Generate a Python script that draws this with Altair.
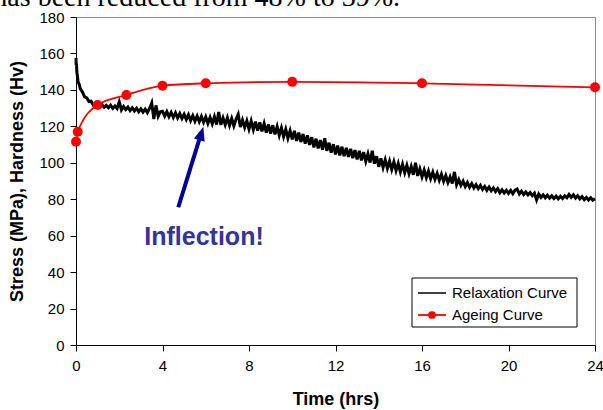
import altair as alt
import pandas as pd

# ---------------- data ----------------
# Relaxation curve (stress, MPa) – dense early part
relax_time_early = [0, 0.01, 0.02, 0.04, 0.06, 0.1, 0.15, 0.2, 0.3, 0.4, 0.5, 0.6, 0.7, 0.8, 0.9]
relax_stress_early = [157.5, 153.5, 154.5, 149.8, 148.0, 144.2, 143.0, 140.6, 138.8, 136.2,
                      135.6, 133.6, 133.8, 131.6, 132.6]

# Relaxation curve, sampled every 0.1 h from 1.0 h to 24.0 h (one row per hour)
relax_stress_main = [
    131.8, 130.6, 131.9, 130.4, 131.5, 130.2, 131.6, 129.9, 131.2, 129.8,   # 1 h
    133.5, 129.0, 130.9, 129.2, 130.6, 128.6, 130.2, 128.4, 129.9, 128.0,   # 2 h
    129.6, 127.8, 129.4, 127.5, 129.8, 132.8, 124.0, 131.5, 125.5, 128.0,   # 3 h
    128.3, 125.6, 128.1, 125.3, 127.6, 124.9, 127.4, 124.6, 127.0, 124.3,   # 4 h
    126.6, 123.8, 126.4, 123.2, 125.9, 122.8, 125.6, 122.5, 125.4, 122.2,   # 5 h
    125.2, 121.6, 124.9, 121.4, 125.3, 121.0, 127.8, 120.8, 124.6, 120.9,   # 6 h
    124.7, 120.5, 124.3, 120.2, 123.9, 126.6, 119.6, 123.4, 119.4, 123.0,   # 7 h
    118.5, 122.9, 118.2, 122.6, 117.6, 122.2, 117.2, 121.5, 116.6, 121.0,   # 8 h
    116.0, 120.6, 115.6, 119.9, 115.0, 119.2, 114.3, 118.4, 113.5, 117.6,   # 9 h
    112.8, 117.5, 112.0, 116.6, 111.4, 115.8, 110.5, 115.0, 109.8, 114.0,   # 10 h
    108.4, 113.2, 107.9, 112.5, 107.2, 113.4, 106.6, 111.0, 105.6, 110.2,   # 11 h
    104.6, 109.4, 104.1, 108.8, 103.7, 108.2, 103.2, 107.6, 102.5, 107.0,   # 12 h
    101.9, 106.5, 101.3, 105.8, 100.8, 104.9, 100.1, 106.6, 99.5, 103.6,    # 13 h
    97.8, 102.4, 97.4, 101.6, 96.9, 100.9, 96.3, 100.5, 95.7, 99.7,         # 14 h
    95.0, 99.2, 94.6, 98.6, 94.0, 97.9, 93.4, 100.0, 92.8, 96.6,            # 15 h
    92.2, 96.0, 91.8, 95.4, 91.3, 94.8, 90.9, 94.2, 90.4, 93.7,             # 16 h
    89.8, 93.0, 89.2, 92.2, 88.6, 95.0, 88.0, 90.8, 87.6, 89.9,             # 17 h
    87.0, 89.2, 86.6, 88.6, 86.2, 88.0, 85.8, 87.6, 85.4, 87.0,             # 18 h
    84.9, 86.7, 84.6, 86.2, 84.2, 85.8, 83.6, 85.2, 83.4, 84.9,             # 19 h
    83.2, 84.8, 83.0, 85.0, 85.6, 82.8, 84.4, 82.6, 84.0, 82.4,             # 20 h
    83.6, 82.0, 83.3, 79.6, 82.8, 81.0, 82.4, 80.8, 82.2, 80.6,             # 21 h
    81.9, 80.4, 81.7, 80.2, 81.6, 80.4, 81.8, 80.8, 82.6, 81.0,             # 22 h
    82.4, 80.6, 81.9, 80.2, 81.4, 79.8, 81.0, 79.6, 80.8, 79.4,             # 23 h
    80.2,                                                                   # 24 h
]
relax_time_main = [round(1 + 0.1 * i, 1) for i in range(len(relax_stress_main))]

# Ageing curve (hardness, Hv)
ageing_time = [0, 0.08, 1, 2.33, 4, 6, 10, 16, 24]
ageing_hardness = [111.5, 117.0, 131.7, 137.2, 142.3, 143.6, 144.4, 143.6, 141.4]

# Annotation
arrow_x = [4.73, 5.72]
arrow_y = [75.6, 113.5]
arrow_tip = [5.89, 119.8]
note_pos = [5.92, 54.9]
note_text = "Inflection!"

legend_labels = ["Relaxation Curve", "Ageing Curve"]
x_ticks = [0, 4, 8, 12, 16, 20, 24]
y_ticks = [0, 20, 40, 60, 80, 100, 120, 140, 160, 180]
x_title = "Time (hrs)"
y_title = "Stress (MPa), Hardness (Hv)"
page_text = "has been reduced from 48% to 39%."

# ---------------- tables ----------------
relax_df = pd.DataFrame({
    "t": relax_time_early + relax_time_main,
    "v": relax_stress_early + relax_stress_main,
})
age_df = pd.DataFrame({"t": ageing_time, "v": ageing_hardness})
arrow_df = pd.DataFrame({"t": [arrow_x[0]], "v": [arrow_y[0]],
                         "t2": [arrow_x[1]], "v2": [arrow_y[1]]})
tip_df = pd.DataFrame({"t": [arrow_tip[0]], "v": [arrow_tip[1]]})
note_df = pd.DataFrame({"t": [note_pos[0]], "v": [note_pos[1]], "label": [note_text]})
one = pd.DataFrame({"a": [0]})

FONT = "Liberation Sans"

xscale = alt.Scale(domain=[0, 24], nice=False, zero=False)
yscale = alt.Scale(domain=[0, 180], nice=False)

xaxis = alt.Axis(values=x_ticks, tickCount=7, title=x_title, grid=False, labelFontSize=15,
                 titleFontSize=18, titleFontWeight="bold", tickSize=6,
                 labelPadding=7, titlePadding=17, domainColor="black",
                 tickColor="black", labelColor="black", titleColor="black",
                 labelFont=FONT, titleFont=FONT, labelFlush=False,
                 labelOverlap=False)
yaxis = alt.Axis(values=y_ticks, tickCount=10, title=y_title, grid=False, labelFontSize=15,
                 titleFontSize=18, titleFontWeight="bold", tickSize=6,
                 labelPadding=6, titlePadding=12, domainColor="black",
                 tickColor="black", labelColor="black", titleColor="black",
                 labelFont=FONT, titleFont=FONT, labelOverlap=False, labelFlush=False)


def X(field="t"):
    return alt.X(f"{field}:Q", scale=xscale, axis=xaxis)


def Y(field="v"):
    return alt.Y(f"{field}:Q", scale=yscale, axis=yaxis)


relax = alt.Chart(relax_df).mark_line(color="black", strokeWidth=3,
                                      strokeJoin="miter").encode(x=X(), y=Y())

age_line = alt.Chart(age_df).mark_line(color="#FF0000", strokeWidth=1.8,
                                       interpolate="monotone").encode(x=X(), y=Y())
age_pts = alt.Chart(age_df).mark_point(filled=True, color="#FF0000", size=100,
                                       opacity=1).encode(x=X(), y=Y())

arrow = alt.Chart(arrow_df).mark_rule(color="#000099", strokeWidth=4).encode(
    x=X(), y=Y(), x2="t2:Q", y2="v2:Q")
head = alt.Chart(tip_df).mark_point(filled=True, color="#000099", opacity=1,
                                    shape="M0,0L0.8,2L-0.8,2Z", size=196,
                                    angle=17).encode(x=X(), y=Y())
note = alt.Chart(note_df).mark_text(color="#333399", fontSize=25, fontWeight="bold",
                                    font=FONT, align="center",
                                    baseline="alphabetic").encode(
    x=X(), y=Y(), text="label:N")

# legend (drawn by hand, fixed pixel positions inside the plot)
leg_box = alt.Chart(one).mark_rect(fill="white", stroke="black", strokeWidth=1).encode(
    x=alt.value(336), x2=alt.value(501), y=alt.value(261), y2=alt.value(310))
leg_l1 = alt.Chart(one).mark_rule(color="black", strokeWidth=1.5).encode(
    x=alt.value(342), x2=alt.value(370), y=alt.value(276))
leg_l2 = alt.Chart(one).mark_rule(color="#FF0000", strokeWidth=1.8).encode(
    x=alt.value(342), x2=alt.value(370), y=alt.value(298))
leg_p2 = alt.Chart(one).mark_point(filled=True, color="#FF0000", size=60, opacity=1).encode(
    x=alt.value(356), y=alt.value(298))
leg_t1 = alt.Chart(one).mark_text(align="left", baseline="middle", fontSize=15,
                                  font=FONT, color="black").encode(
    x=alt.value(376), y=alt.value(276), text=alt.value(legend_labels[0]))
leg_t2 = alt.Chart(one).mark_text(align="left", baseline="middle", fontSize=15,
                                  font=FONT, color="black").encode(
    x=alt.value(376), y=alt.value(298), text=alt.value(legend_labels[1]))

# cut-off document text above the chart (only its lower part shows)
page = alt.Chart(one).mark_text(align="right", baseline="alphabetic", fontSize=28,
                                font="Liberation Serif", color="black").encode(
    x=alt.value(324), y=alt.value(-11), text=alt.value(page_text))

chart = alt.layer(
    relax, age_line, age_pts, arrow, head, note,
    leg_box, leg_l1, leg_l2, leg_p2, leg_t1, leg_t2, page,
).properties(
    width=519, height=328,
    autosize=alt.AutoSizeParams(type="none"),
    padding={"left": 76, "top": 17, "right": 8, "bottom": 65},
    background="white",
).configure_view(stroke="#8c8c8c", strokeWidth=1)

chart.save("out.html", embed_options={"renderer": "svg", "actions": False})
